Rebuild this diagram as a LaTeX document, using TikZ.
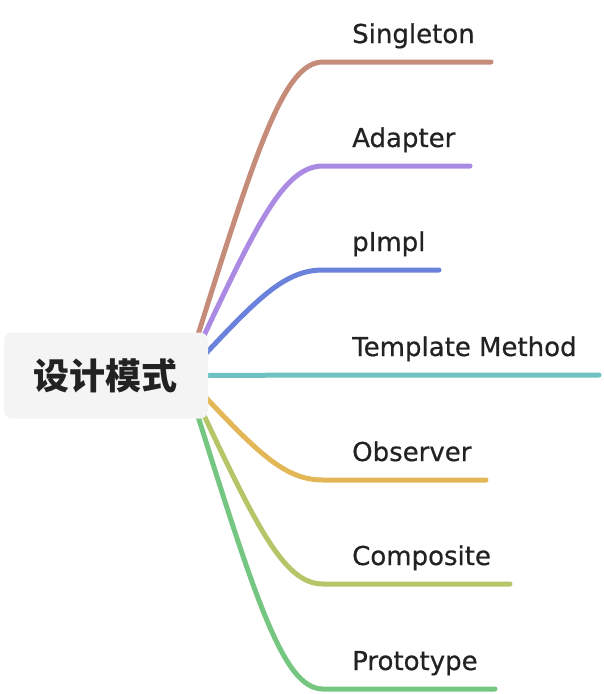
\documentclass[tikz,border=0pt]{standalone}
\usepackage{fontspec}
\setmainfont{DejaVu Sans}[FakeBold=0.6]
\newfontfamily\cjk{Noto Sans CJK SC}
\usetikzlibrary{calc,backgrounds}
\definecolor{mmroot}{RGB}{244,244,244}
\definecolor{mmtext}{RGB}{34,34,34}
\definecolor{brsingle}{RGB}{197,140,122}
\definecolor{bradapt}{RGB}{170,138,226}
\definecolor{brpimpl}{RGB}{106,130,220}
\definecolor{brtempl}{RGB}{108,194,192}
\definecolor{brobserv}{RGB}{227,183,88}
\definecolor{brcompos}{RGB}{181,198,105}
\definecolor{brproto}{RGB}{117,198,128}
\tikzset{
  mroot/.style={fill=mmroot, rounded corners=8pt, minimum width=204pt, minimum height=86pt, inner sep=0pt, text=mmtext, font=\cjk\bfseries\fontsize{36}{40}\selectfont},
  mlabel/.style={anchor=base west, inner sep=0pt, text=mmtext, font=\fontsize{26}{30}\selectfont},
  mbranch/.style={line width=5pt, line cap=round}
}

\begin{document}
\begin{tikzpicture}[x=1pt, y=-1pt]
  \useasboundingbox (0,0) rectangle (604,694);
  \node[mroot] (root) at (106,375.5) {设计模式};
  \coordinate (hub) at ($(root.east)+(-23,0)$);
  % branches, drawn behind the root box
  \begin{scope}[on background layer]
    \foreach \nm/\clr/\ly/\ex/\lbl in {single/brsingle/62/491/Singleton, adapt/bradapt/166/470/Adapter,
        pimpl/brpimpl/270/439/pImpl, templ/brtempl/375/599/Template Method, observ/brobserv/480/486/Observer,
        compos/brcompos/584/510/Composite, proto/brproto/689/495/Prototype}{
      \coordinate (\nm-end) at (\ex,\ly);
      \node[mlabel] (\nm) at (352,\ly-19) {\lbl};
      \draw[mbranch, \clr] (hub) .. controls ($(hub)+(69,{0.7*(\ly-375)})$) and (282,\ly) .. (323,\ly) -- (\nm-end);
    }
  \end{scope}
\end{tikzpicture}
\end{document}
